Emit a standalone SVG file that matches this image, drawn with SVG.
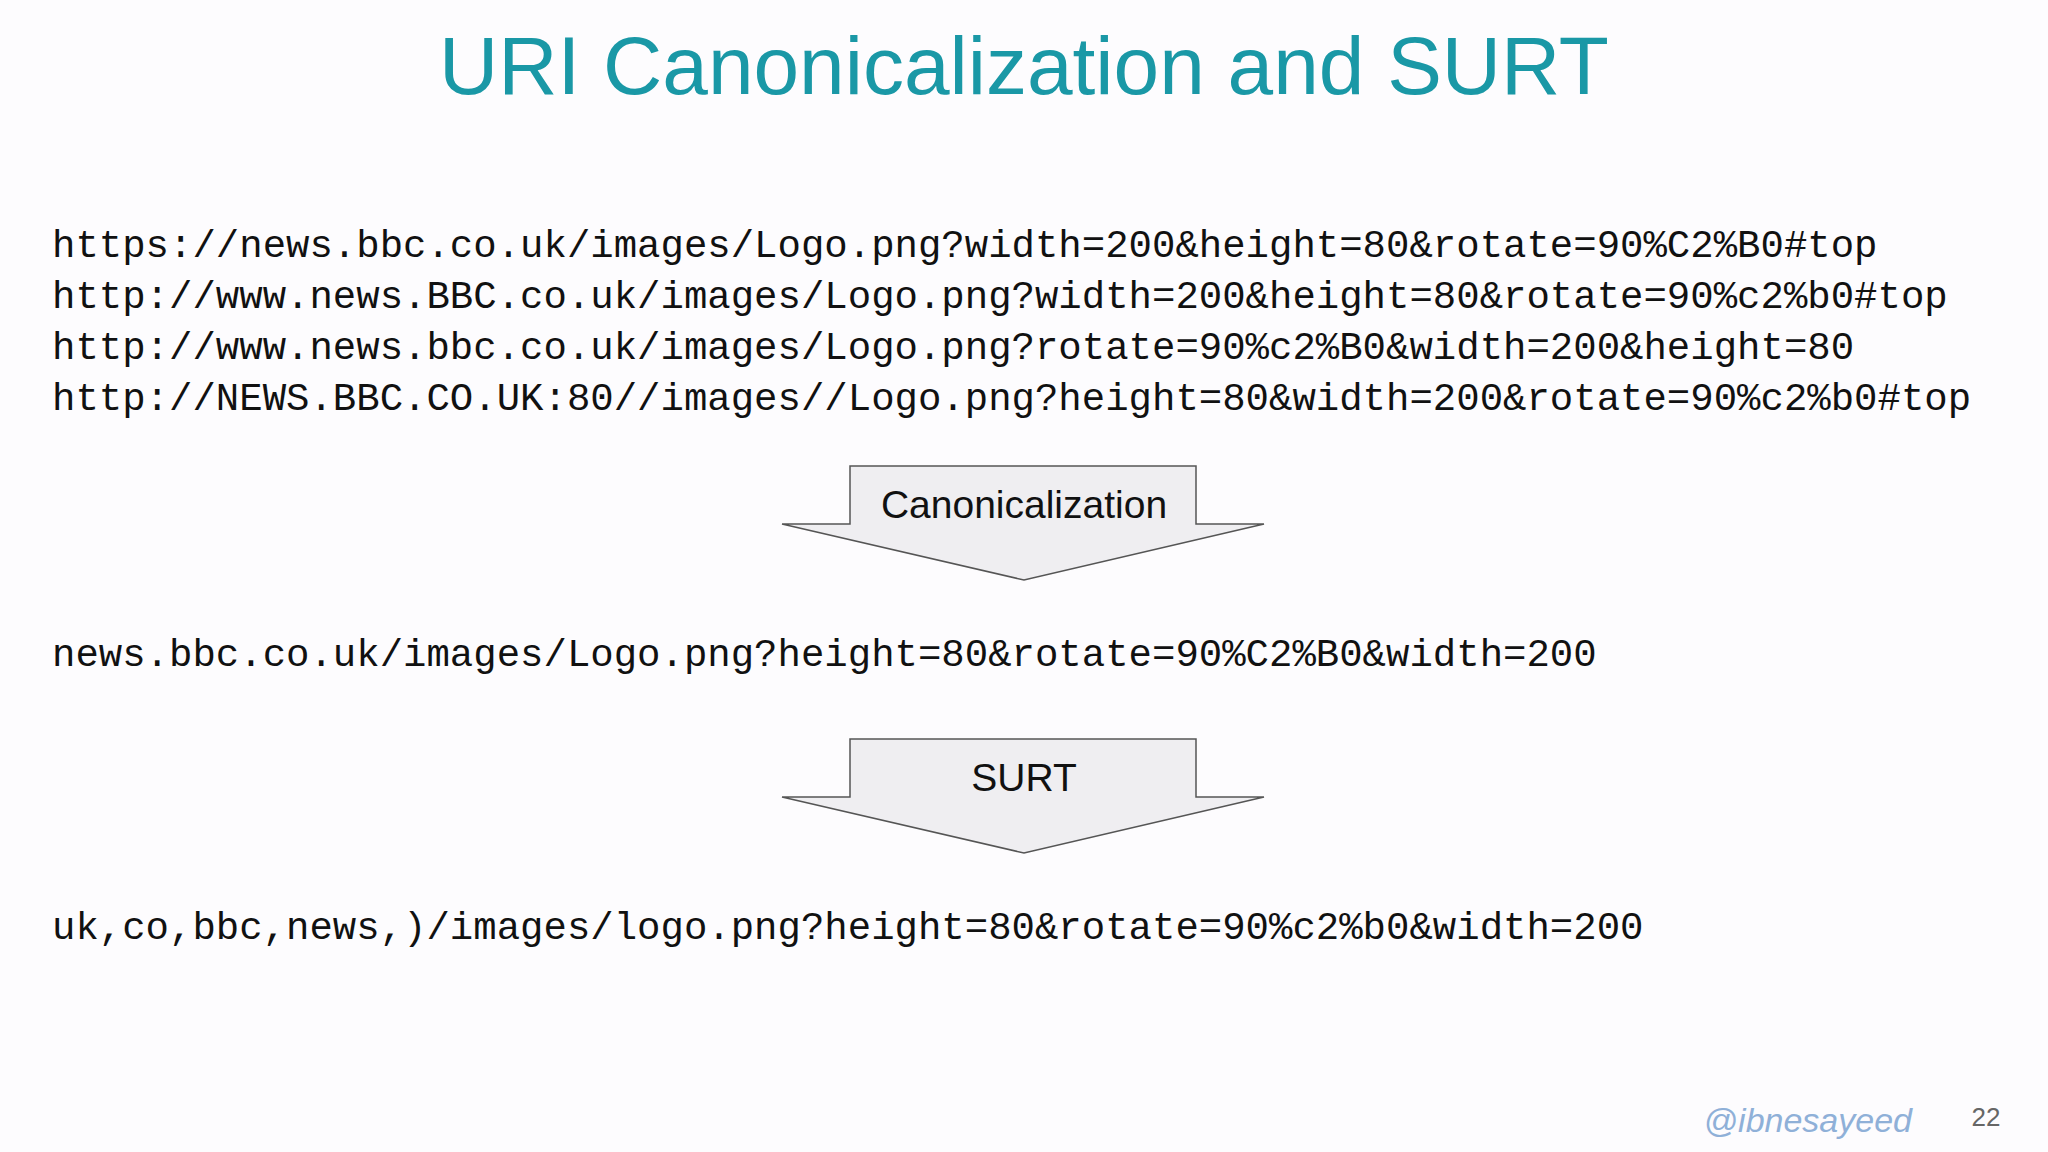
<svg xmlns="http://www.w3.org/2000/svg" width="2048" height="1152" viewBox="0 0 2048 1152">
<style>
.mono{font-family:"Liberation Mono","DejaVu Sans Mono",monospace;font-size:39px;fill:#111}
.lbl{font-family:"Liberation Sans",Arial,sans-serif;font-size:39px;fill:#111;text-anchor:middle}
.arrow{fill:#efeef1;stroke:#555;stroke-width:1.5}
</style>
<rect width="2048" height="1152" fill="#fdfcfe"/>
<text x="1024" y="94" text-anchor="middle" font-family="Liberation Sans,Arial,sans-serif" font-size="82" fill="#1a98a6">URI Canonicalization and SURT</text>
<g id="inputs">
<text class="mono" x="52" y="257">https://news.bbc.co.uk/images/Logo.png?width=200&amp;height=80&amp;rotate=90%C2%B0#top</text>
<text class="mono" x="52" y="308">http://www.news.BBC.co.uk/images/Logo.png?width=200&amp;height=80&amp;rotate=90%c2%b0#top</text>
<text class="mono" x="52" y="359">http://www.news.bbc.co.uk/images/Logo.png?rotate=90%c2%B0&amp;width=200&amp;height=80</text>
<text class="mono" x="52" y="410">http://NEWS.BBC.CO.UK:80//images//Logo.png?height=80&amp;width=200&amp;rotate=90%c2%b0#top</text>
</g>
<g id="connectors">
<g id="canon-arrow">
<polygon class="arrow" points="850,466 1196,466 1196,524 1264,524 1024,580 782,524 850,524"/>
<text class="lbl" x="1024" y="518">Canonicalization</text>
</g>
<g id="surt-arrow">
<polygon class="arrow" points="850,739 1196,739 1196,797 1264,797 1024,853 782,797 850,797"/>
<text class="lbl" x="1024" y="791">SURT</text>
</g>
</g>
<g id="canonical">
<text class="mono" x="52" y="666">news.bbc.co.uk/images/Logo.png?height=80&amp;rotate=90%C2%B0&amp;width=200</text>
</g>
<g id="surt">
<text class="mono" x="52" y="939">uk,co,bbc,news,)/images/logo.png?height=80&amp;rotate=90%c2%b0&amp;width=200</text>
</g>
<text x="1912" y="1132" text-anchor="end" font-family="Liberation Sans,Arial,sans-serif" font-style="italic" font-size="34" fill="#8fb0d8">@ibnesayeed</text>
<text x="1986" y="1126" text-anchor="middle" font-family="Liberation Sans,Arial,sans-serif" font-size="26" fill="#666">22</text>
</svg>
